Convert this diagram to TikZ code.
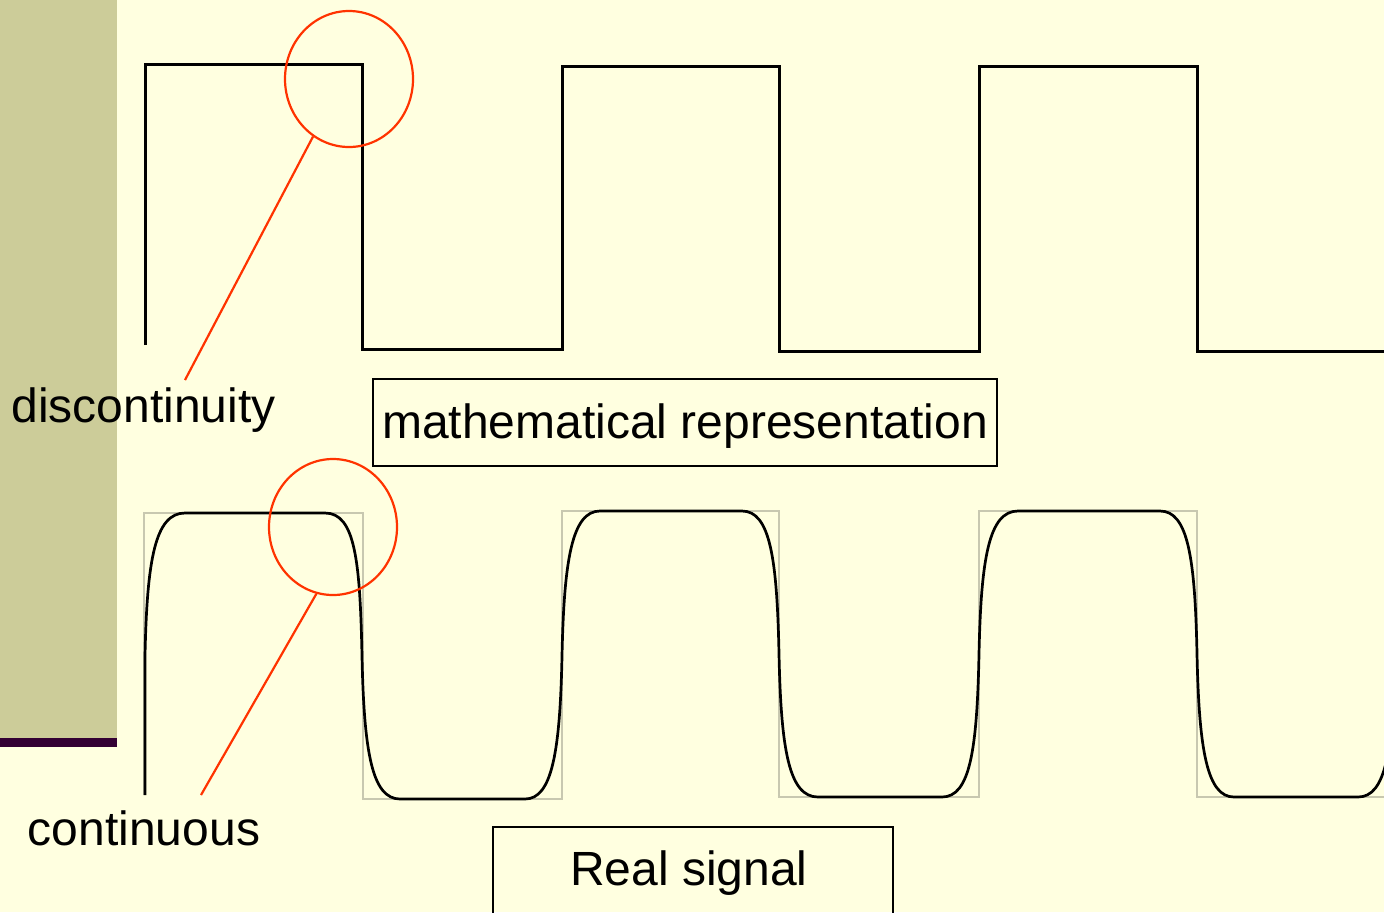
\documentclass[tikz,border=0pt]{standalone}
\usepackage{fontspec}
\setmainfont{Liberation Sans}
\usetikzlibrary{shapes.geometric}
\definecolor{bgc}{HTML}{FFFFE0}
\definecolor{barc}{HTML}{CCCC99}
\definecolor{darkbar}{HTML}{330033}
\definecolor{redc}{HTML}{FF3300}
\definecolor{ghost}{HTML}{C8C8B0}
\tikzset{
  wave/.style={draw=black, line width=1.5pt, line join=miter},
  realwave/.style={draw=black, line width=1.35pt},
  ghostwave/.style={draw=ghost, line width=0.6pt},
  marker/.style={ellipse, draw=redc, line width=1.1pt, minimum width=64pt, minimum height=68pt, inner sep=0pt},
  pointer/.style={draw=redc, line width=1.1pt},
  label/.style={font=\fontsize{24}{28}\selectfont, inner sep=0pt, anchor=base},
  boxlabel/.style={draw=black, line width=1pt, font=\fontsize{24}{28}\selectfont, inner sep=0pt}
}
\begin{document}
\begin{tikzpicture}[x=0.5pt, y=-0.5pt]
\useasboundingbox (0,0) rectangle (1384,912);
\clip (0,0) rectangle (1384,912);
\fill[bgc] (0,0) rectangle (1384,912);
\fill[barc] (0,0) rectangle (117,738);
\fill[darkbar] (0,738) rectangle (117,747);

% mathematical square wave
\draw[wave] (145,345) -- (145,64) -- (362,64) -- (362,349) -- (562,349) -- (562,66) -- (779,66) -- (779,351) -- (979,351) -- (979,66) -- (1197,66) -- (1197,351) -- (1390,351);

% ghost square wave behind real signal
\draw[ghostwave] (144,795) -- (144,513) -- (363,513) -- (363,799) -- (562,799) -- (562,511) -- (779,511) -- (779,797) -- (979,797) -- (979,511) -- (1197,511) -- (1197,797) -- (1390,797);

% real signal
\draw[realwave] (145,795) -- (145,656)
  .. controls (147,560) and (155,513) .. (185,513) -- (325,513)
  .. controls (355,513) and (360,560) .. (362,656)
  .. controls (364,752) and (372,799) .. (400,799) -- (525,799)
  .. controls (552,799) and (560,752) .. (562,656)
  .. controls (564,560) and (572,511) .. (600,511) -- (742,511)
  .. controls (770,511) and (777,558) .. (779,654)
  .. controls (781,750) and (789,797) .. (818,797) -- (942,797)
  .. controls (970,797) and (977,750) .. (979,654)
  .. controls (981,558) and (989,511) .. (1018,511) -- (1160,511)
  .. controls (1188,511) and (1195,558) .. (1197,654)
  .. controls (1199,750) and (1207,797) .. (1234,797) -- (1358,797)
  .. controls (1386,797) and (1393,750) .. (1395,654);

% markers
\node[marker] (c1) at (349,79) {};
\node[marker] (c2) at (333,527) {};
\coordinate (e1) at (185,380);
\coordinate (e2) at (201,795);
\draw[pointer] (c1.238) -- (e1);
\draw[pointer] (c2.256) -- (e2);

% labels
\node[label] (ldisc) at (143.5,422) {discontinuity};
\node[label] (lcont) at (144,845) {continuous};
\node[boxlabel, minimum width=312pt, minimum height=43.5pt, text height=18pt, text depth=2.5pt] (bmath) at (685,422.5) {mathematical representation};
\node[boxlabel, minimum width=200pt, minimum height=43.5pt, text height=17.5pt, text depth=3pt] (breal) at (693,870.5) {Real signal\hspace*{4pt}};
\end{tikzpicture}
\end{document}
